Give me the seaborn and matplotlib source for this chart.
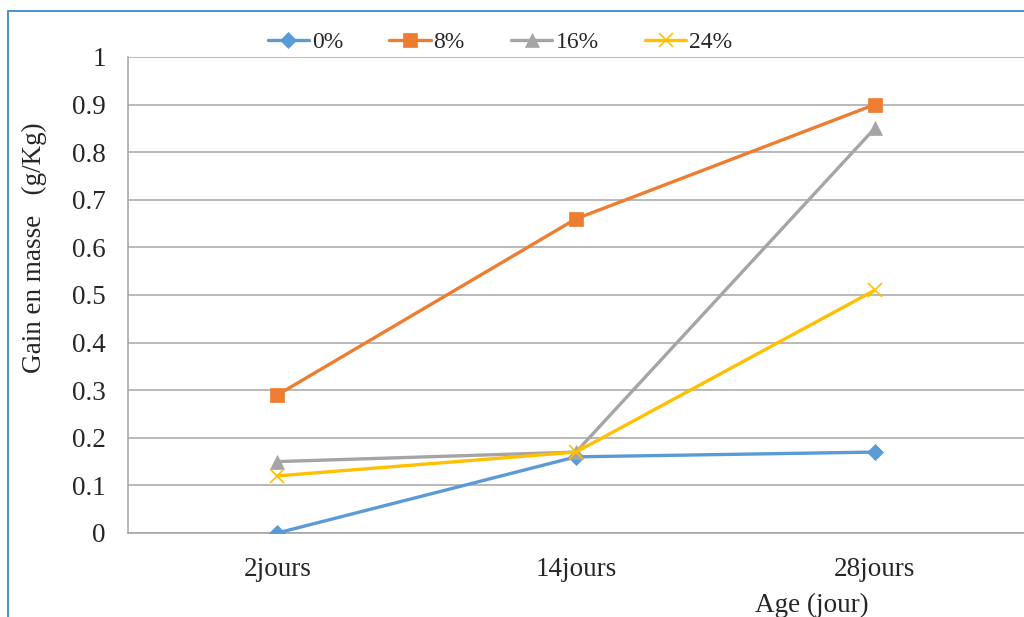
import matplotlib
matplotlib.use("Agg")
import matplotlib.pyplot as plt
from matplotlib.patches import Rectangle
import seaborn as sns
import pandas as pd

categories = ["2jours", "14jours", "28jours"]
series_names = ["0%", "8%", "16%", "24%"]
values_0 = [0.00, 0.16, 0.17]
values_8 = [0.29, 0.66, 0.90]
values_16 = [0.15, 0.17, 0.85]
values_24 = [0.12, 0.17, 0.51]
y_ticks = [0, 0.1, 0.2, 0.3, 0.4, 0.5, 0.6, 0.7, 0.8, 0.9, 1]
y_tick_labels = ["0", "0.1", "0.2", "0.3", "0.4", "0.5", "0.6", "0.7", "0.8", "0.9", "1"]

colors = {"0%": "#5B9BD5", "8%": "#ED7D31", "16%": "#A5A5A5", "24%": "#FFC000"}
markers = {"0%": "D", "8%": "s", "16%": "^", "24%": "x"}
marker_sizes = {"0%": 8, "8%": 10, "16%": 10.5, "24%": 10}

rows = []
for name, vals in zip(series_names, [values_0, values_8, values_16, values_24]):
    for i, v in enumerate(vals):
        rows.append({"pos": i, "gain": v, "serie": name})
df = pd.DataFrame(rows)

sns.set_style("white")
plt.rcParams["font.family"] = ["Liberation Serif", "DejaVu Serif"]
FS = 19.5

fig = plt.figure(figsize=(10.24, 6.17), dpi=100)
ax = fig.add_axes([128 / 1024, 1 - 533 / 617, 896 / 1024, (533 - 57) / 617])

for name in series_names:
    sub = df[df["serie"] == name]
    sns.lineplot(data=sub, x="pos", y="gain", ax=ax, color=colors[name],
                 linewidth=2.4, marker=markers[name], markersize=marker_sizes[name],
                 markeredgecolor=colors[name], markeredgewidth=1.2 if name == "24%" else 0.5,
                 label=name, zorder=3)

ax.set_xlim(-0.5, 2.5)
ax.set_ylim(0, 1)
ax.set_yticks(y_ticks)
ax.set_yticklabels(y_tick_labels, fontsize=FS)
ax.set_xticks([-0.5, 0.5, 1.5, 2.5])
ax.set_xticklabels([])
ax.set_xticks([0, 1, 2], minor=True)
ax.set_xticklabels(categories, minor=True, fontsize=FS)
ax.tick_params(axis="x", which="minor", length=0, pad=17)
ax.tick_params(axis="x", which="major", length=5, width=1, color="#A0A0A0", direction="out")
ax.tick_params(axis="y", length=5, width=1, color="#A0A0A0", direction="out", pad=11)
ax.yaxis.grid(True, color="#A6A6A6", linewidth=1.1)
ax.xaxis.grid(False)
for side in ["top", "right"]:
    ax.spines[side].set_visible(False)
for side in ["left", "bottom"]:
    ax.spines[side].set_color("#A0A0A0")
    ax.spines[side].set_linewidth(1.1)
ax.set_xlabel("")
ax.set_ylabel("")

ax.get_legend().remove()
handles, labels = ax.get_legend_handles_labels()
fig.legend(handles, labels, loc="center", bbox_to_anchor=(500 / 1024, 1 - 42 / 617),
           ncol=4, frameon=False, fontsize=17, handlelength=1.74,
           handletextpad=0.13, columnspacing=1.97, borderaxespad=0, borderpad=0)

fig.text(34 / 1024, 1 - 248 / 617, "Gain en masse   (g/Kg)", rotation=90,
         ha="center", va="center", fontsize=FS)
fig.text(812 / 1024, 1 - 605 / 617, "Age (jour)", ha="center", va="center", fontsize=FS)

fig.patches.append(Rectangle((8 / 1024, -0.1), 1.2, 1 - 11 / 617 + 0.1,
                             transform=fig.transFigure, fill=False,
                             edgecolor="#3A87D0", linewidth=1.3, zorder=0))

fig.savefig("out.png", dpi=100)
